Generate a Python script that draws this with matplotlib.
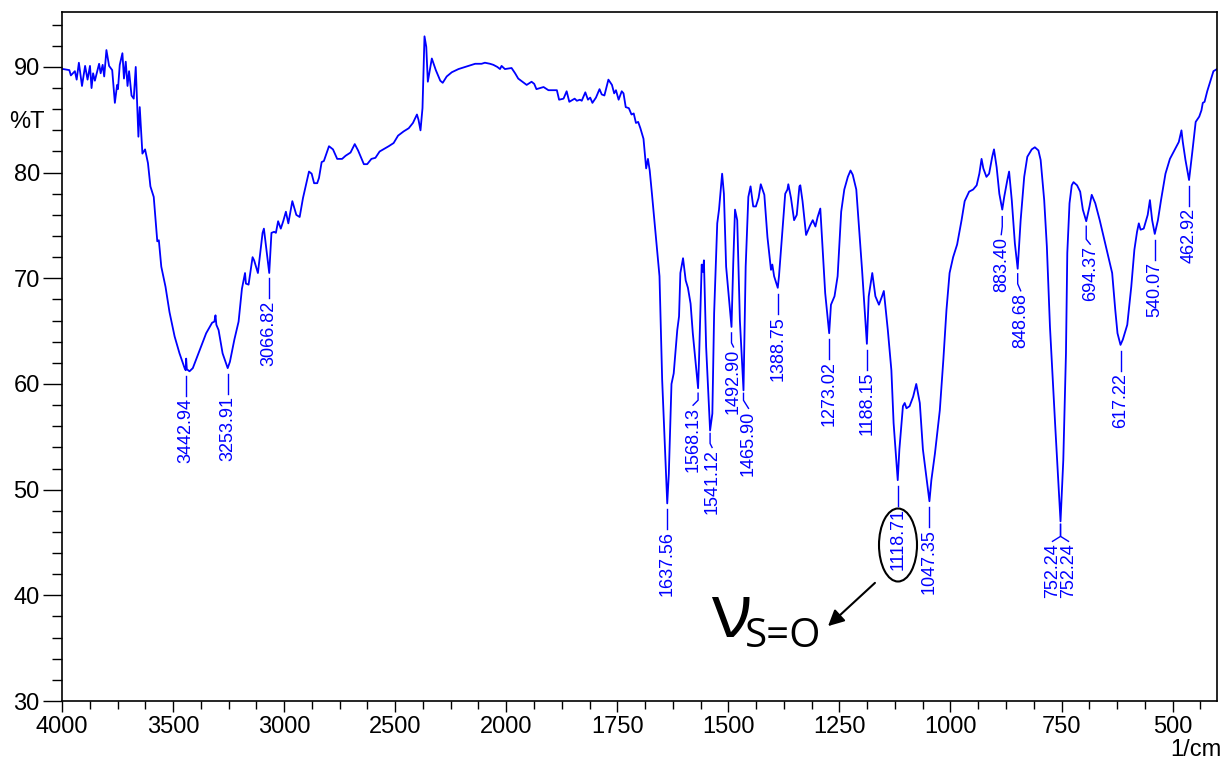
import numpy as np
import matplotlib
matplotlib.use("Agg")
import matplotlib.pyplot as plt
from matplotlib.patches import Ellipse

# IR spectrum (wavenumber in 1/cm, transmittance in %T)
wavenumber = [
    3996, 3994, 3967, 3960, 3942, 3934, 3924, 3910, 3896, 3885, 3874, 3867, 3860, 3852,
    3833, 3826, 3817, 3810, 3800, 3788, 3774, 3762, 3752, 3748, 3740, 3728, 3721, 3713,
    3705, 3698, 3687, 3677, 3668, 3656, 3650, 3638, 3626, 3613, 3602, 3587, 3571, 3564,
    3553, 3534, 3516, 3493, 3471, 3448, 3443, 3441, 3438, 3426, 3411, 3389, 3351, 3324,
    3314, 3309, 3305, 3295, 3277, 3254, 3244, 3224, 3205, 3190, 3176, 3172, 3160, 3142,
    3135, 3118, 3097, 3091, 3067, 3057, 3045, 3037, 3027, 3015, 3004, 2992, 2981, 2963,
    2945, 2930, 2915, 2903, 2888, 2876, 2865, 2851, 2843, 2831, 2821, 2798, 2780, 2761,
    2739, 2723, 2701, 2682, 2667, 2641, 2626, 2607, 2589, 2570, 2529, 2507, 2487, 2462,
    2439, 2420, 2402, 2395, 2386, 2377, 2368, 2360, 2353, 2335, 2317, 2297, 2286, 2268,
    2245, 2215, 2185, 2140, 2111, 2096, 2073, 2058, 2040, 2028, 2021, 2006, 1988, 1980,
    1973, 1954, 1943, 1937, 1932, 1924, 1916, 1905, 1886, 1881, 1871, 1864, 1858, 1846,
    1841, 1834, 1830, 1822, 1816, 1811, 1806, 1798, 1790, 1785, 1779, 1770, 1762, 1757,
    1753, 1747, 1740, 1736, 1731, 1724, 1718, 1713, 1708, 1703, 1698, 1691, 1685, 1681,
    1677, 1672, 1664, 1655, 1649, 1637.56, 1634, 1628, 1623, 1615, 1611, 1608, 1602,
    1596, 1591, 1585, 1580, 1568.13, 1566, 1560, 1557, 1555, 1550, 1541.12, 1536, 1532,
    1525, 1521, 1514, 1510, 1505, 1492.90, 1489, 1485, 1480, 1474, 1465.90, 1461, 1455,
    1450, 1444, 1438, 1432, 1427, 1419, 1412, 1404, 1401, 1397, 1388.75, 1386, 1378,
    1372, 1367, 1365, 1359, 1352, 1346, 1340, 1338, 1333, 1325, 1316, 1310, 1304, 1299,
    1293, 1288, 1282, 1273.02, 1269, 1261, 1254, 1246, 1239, 1231, 1225, 1220, 1212,
    1205, 1199, 1188.15, 1184, 1176, 1169, 1161, 1154, 1150, 1141, 1133, 1128, 1118.71,
    1115, 1107, 1103, 1099, 1092, 1084, 1077, 1069, 1062, 1047.35, 1043, 1035, 1024,
    1016, 1009, 1002, 994, 985, 975, 968, 958, 949, 941, 935, 930, 926, 919, 913, 906,
    902, 896, 890, 883.40, 879, 872, 868, 862, 855, 848.68, 842, 834, 827, 817, 810, 802,
    797, 789, 783, 776, 764, 752.24, 746, 740, 737, 732, 727, 723, 715, 708, 702, 694.37,
    687, 682, 674, 664, 655, 648, 636, 629, 624, 617.22, 612, 602, 593, 586, 580, 576,
    572, 565, 556, 551, 546, 540.07, 533, 526, 516, 506, 496, 486, 480, 477, 471, 462.92,
    456, 448, 440, 435, 432, 428, 422, 414, 408, 400,
]
transmittance = [
    89.8, 89.8, 89.7, 89.2, 89.6, 88.8, 90.4, 88.2, 90.1, 88.8, 90.1, 88.0, 89.4, 88.7,
    90.3, 89.4, 90.2, 89.1, 91.6, 90.1, 89.7, 86.6, 88.3, 87.9, 90.2, 91.3, 88.9, 90.5,
    88.2, 89.6, 87.3, 87.0, 90.0, 83.4, 86.2, 81.8, 82.2, 80.9, 78.7, 77.7, 73.5, 73.6,
    71.1, 69.2, 66.8, 64.5, 62.9, 61.5, 61.3, 62.4, 61.4, 61.2, 61.5, 62.7, 64.8, 65.8,
    65.9, 66.5, 65.6, 65.1, 62.9, 61.5, 62.1, 64.2, 65.9, 69.0, 70.5, 69.5, 69.4, 72.0,
    71.7, 70.5, 74.3, 74.7, 70.5, 74.3, 74.4, 74.3, 75.4, 74.7, 75.4, 76.3, 75.2, 77.3,
    76.0, 75.8, 77.6, 78.7, 80.1, 79.9, 79.0, 79.0, 79.5, 81.0, 81.1, 82.5, 82.2, 81.3,
    81.3, 81.6, 81.9, 82.7, 82.1, 80.8, 80.8, 81.3, 81.4, 82.0, 82.5, 82.8, 83.5, 83.9,
    84.2, 84.7, 85.5, 85.0, 84.0, 86.1, 92.9, 91.9, 88.6, 90.8, 89.7, 88.7, 88.5, 89.1,
    89.5, 89.8, 90.0, 90.3, 90.3, 90.4, 90.3, 90.2, 90.0, 89.8, 90.1, 89.8, 89.9, 89.4,
    88.9, 88.3, 88.6, 88.4, 87.9, 88.0, 88.1, 87.8, 87.8, 86.9, 87.0, 87.7, 86.7, 87.0,
    86.8, 86.9, 86.8, 87.6, 86.9, 87.1, 86.6, 87.1, 87.9, 87.4, 87.3, 88.8, 88.3, 87.5,
    87.8, 86.9, 87.7, 87.5, 86.2, 86.1, 85.5, 85.6, 84.7, 84.8, 84.2, 83.2, 80.4, 81.3,
    80.2, 78.0, 74.3, 70.2, 60.4, 48.7, 51.5, 60.0, 61.0, 65.1, 66.4, 70.5, 71.9,
    69.8, 69.1, 67.6, 64.8, 59.6, 62.3, 71.3, 70.6, 71.7, 63.5, 55.6, 57.2, 66.7,
    75.2, 76.5, 79.9, 78.0, 71.1, 65.4, 71.4, 76.5, 75.5, 66.0, 59.4, 71.1, 77.7,
    78.7, 76.8, 76.8, 77.6, 78.9, 77.9, 73.9, 70.8, 71.3, 70.2, 69.1, 70.2, 74.6,
    78.0, 78.4, 78.9, 77.6, 75.5, 76.0, 78.7, 78.8, 77.3, 74.1, 75.0, 75.5, 74.9, 75.8,
    76.6, 73.0, 68.6, 64.8, 67.5, 68.3, 70.2, 76.3, 78.4, 79.6, 80.2, 79.8, 78.4,
    74.3, 70.8, 63.8, 68.3, 70.5, 68.3, 67.5, 68.3, 68.8, 65.1, 61.3, 56.3, 50.9,
    53.8, 57.9, 58.2, 57.7, 57.9, 58.8, 60.0, 58.2, 53.8, 48.9, 50.9, 53.4, 57.5,
    62.3, 67.0, 70.5, 72.0, 73.2, 75.5, 77.3, 78.2, 78.4, 78.8, 79.9, 81.3, 80.4, 79.6, 79.9, 81.5,
    82.2, 80.5, 78.0, 76.5, 77.7, 79.3, 80.1, 77.4, 73.3, 70.9, 75.5, 79.6, 81.5, 82.2, 82.4, 82.1,
    81.2, 77.4, 73.0, 65.4, 55.9, 47.0, 52.8, 62.9, 72.4, 77.1, 78.8, 79.1, 78.8, 78.2, 76.5, 75.4,
    76.8, 77.9, 77.1, 75.5, 73.9, 72.7, 70.5, 67.0, 64.8, 63.7, 64.2, 65.6, 69.2, 72.7, 74.4, 75.2,
    74.6, 74.7, 76.0, 77.4, 75.5, 74.2, 75.5, 77.4, 79.9, 81.3, 82.1, 82.9, 84.0, 82.9, 81.2, 79.3,
    81.8, 84.8, 85.3, 85.9, 86.6, 86.7, 87.7, 88.8, 89.6, 89.8,
]

peak_wn = [3442.94, 3253.91, 3066.82, 1637.56, 1568.13, 1541.12, 1492.90, 1465.90,
           1388.75, 1273.02, 1188.15, 1118.71, 1047.35, 883.40, 848.68, 752.24, 752.24,
           694.37, 617.22, 540.07, 462.92]
peak_labels = ["3442.94", "3253.91", "3066.82", "1637.56", "1568.13", "1541.12", "1492.90",
               "1465.90", "1388.75", "1273.02", "1188.15", "1118.71", "1047.35", "883.40",
               "848.68", "752.24", "752.24", "694.37", "617.22", "540.07", "462.92"]

x_major = [4000, 3500, 3000, 2500, 2000, 1750, 1500, 1250, 1000, 750, 500]
y_major = [30, 40, 50, 60, 70, 80, 90]

BLUE = (0, 0, 1)
TICK_FONT = ["Liberation Sans", "DejaVu Sans"]


def fwd(x):
    # the spectrometer compresses 4000-2000 to half the scale of 2000-400
    x = np.asarray(x, dtype=float)
    return np.where(x > 2000, 2000 + (x - 2000) / 2, x)


def inv(t):
    t = np.asarray(t, dtype=float)
    return np.where(t > 2000, 2000 + (t - 2000) * 2, t)


W, H = 1223, 764
fig = plt.figure(figsize=(W / 100, H / 100), dpi=100)
ax = fig.add_axes([62 / W, 1 - 701 / H, 1155 / W, 689 / H])

ax.set_xscale("function", functions=(fwd, inv))
ax.set_xlim(4000, 400)
ax.set_ylim(30, 95.2)

ax.plot(wavenumber, transmittance, color=BLUE, lw=1.3)

ax.set_xticks(x_major)
ax.set_xticks(list(np.arange(2125, 4000, 125)) + list(np.arange(437.5, 2000, 62.5)),
              minor=True)
ax.set_yticks(y_major)
ax.set_yticks(np.arange(32, 95, 2), minor=True)
ax.tick_params(axis="x", which="major", length=8, width=1, direction="out", pad=3)
ax.tick_params(axis="x", which="minor", length=6, width=1, direction="out")
ax.tick_params(axis="y", which="major", length=14, width=1, direction="out", pad=2)
ax.tick_params(axis="y", which="minor", length=7, width=1, direction="out")
for lab in ax.get_xticklabels() + ax.get_yticklabels():
    lab.set_family(TICK_FONT)
    lab.set_fontsize(17)
for sp in ax.spines.values():
    sp.set_linewidth(1.2)

fig.text(9 / W, 1 - 122 / H, "%T", family=TICK_FONT, fontsize=17, va="center", ha="left")
fig.text(1221 / W, 1 - 750 / H, "1/cm", family=TICK_FONT, fontsize=17, va="center", ha="right")

# peak pick labels: (gap, vertical, dx, diagonal) in pixels below the minimum
layout = {
    "1568.13": (5, 7, -5, 5), "1541.12": (3, 10, 2, 4), "1492.90": (6, 10, 2, 4),
    "1465.90": (3, 7, 5, 8), "883.40": (7, 10, -1, 8), "848.68": (5, 10, 3, 7),
    "694.37": (5, 13, 4, 5),
}
wn_inc = np.array(wavenumber[::-1])
t_inc = np.array(transmittance[::-1])
to_disp = ax.transData.transform
to_data = ax.transData.inverted().transform
seen = 0
for wn, lab in zip(peak_wn, peak_labels):
    tmin = np.interp(wn, wn_inc, t_inc)
    X, Y = to_disp((wn, tmin))
    if lab == "752.24":
        dx = -8 if seen == 0 else 8
        seen += 1
        gap, v, diag = 3, 12, 5
    else:
        gap, v, dx, diag = layout.get(lab, (6, 20, 0, 0))
    pts = [(X, Y - gap), (X, Y - gap - v)]
    if diag:
        pts.append((X + dx, Y - gap - v - diag))
    d = to_data(pts)
    ax.plot(d[:, 0], d[:, 1], color=BLUE, lw=1)
    tx, ty = to_data((X + dx, Y - gap - v - diag - 2))
    ax.text(tx, ty, lab, rotation=90, ha="center", va="top", color=BLUE,
            fontsize=13, family=TICK_FONT)

# S=O annotation
ell = Ellipse(((898 - 62) / 1155, (701 - 545) / 689), 38 / 1155, 73 / 689,
              transform=ax.transAxes, fill=False, ec="black", lw=1.5)
ax.add_patch(ell)
ax.annotate("", xy=((826 - 62) / 1155, (701 - 628) / 689),
            xytext=((877 - 62) / 1155, (701 - 581) / 689),
            xycoords="axes fraction", textcoords="axes fraction",
            arrowprops=dict(arrowstyle="-|>", color="black", lw=1.5, mutation_scale=24))
ax.text((711 - 62) / 1155, (701 - 637) / 689, "\u03bd", transform=ax.transAxes,
        fontsize=54, family=["Open Sans", "DejaVu Sans"], ha="left", va="baseline")
ax.text((745 - 62) / 1155, (701 - 647) / 689, "S=O", transform=ax.transAxes,
        fontsize=29, family=["Open Sans", "DejaVu Sans"], ha="left", va="baseline")

fig.savefig("out.png", dpi=100)
